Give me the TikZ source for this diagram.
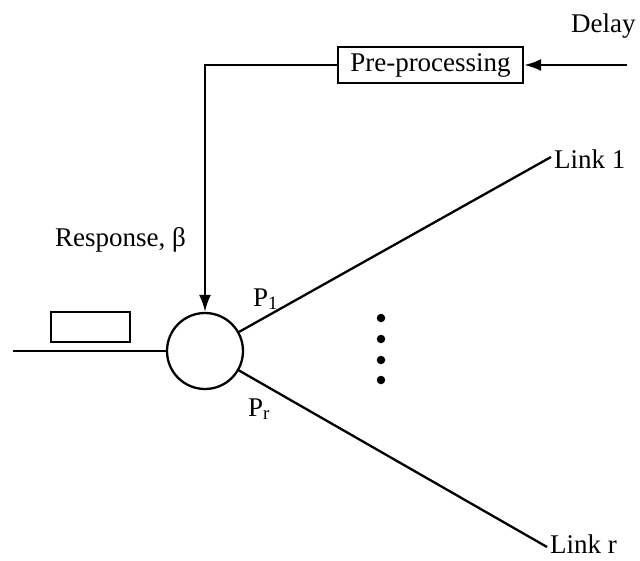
\documentclass[tikz,border=0pt]{standalone}
\usepackage{fontspec}
\setmainfont{Liberation Serif}
\usetikzlibrary{arrows.meta}
\begin{document}
\begin{tikzpicture}[x=1pt,y=-1pt,
  line width=2.3pt,
  lbl/.style={font=\fontsize{27}{31}\selectfont, inner sep=0pt},
  proc/.style={draw, line width=2.3pt, minimum width=185pt, minimum height=36pt, inner sep=0pt, font=\fontsize{27}{31}\selectfont},
  arr/.style={-{Latex[length=17pt,width=12pt]}},
  dot/.style={circle, fill, inner sep=0pt, minimum size=8.5pt}]
\useasboundingbox (0,0) rectangle (640,560);
% junction and the feeding line with its small buffer
\node[circle, draw, line width=2.3pt, minimum size=76pt, inner sep=0pt] (hub) at (205,351) {};
\coordinate (in) at (13,351);
\draw (in) -- (hub.west);
\node[draw, line width=2pt, minimum width=79pt, minimum height=30pt, inner sep=0pt] (buf) at (90.5,327) {};
% control path
\node[proc] (pre) at (430.5,65) {Pre-processing};
\coordinate (din) at (627,65);
\coordinate (corner) at (205,65);
\draw[arr] (din) -- (pre.east);
\draw[arr] (pre.west) -- (corner) -- (hub.north);
\node[lbl, anchor=base west] (delay) at (570,32) {Delay};
\node[lbl, anchor=base west] (resp) at (54,246) {Response, β};
% outgoing links
\coordinate (l1) at (551,157);
\coordinate (lr) at (547,547);
\draw (hub) -- (l1);
\draw (hub) -- (lr);
\node[lbl, anchor=base west] (link1) at (553,168) {Link 1};
\node[lbl, anchor=base west] (linkr) at (549,553) {Link r};
\node[lbl, anchor=base west] (p1) at (252,306) {P\textsubscript{1}};
\node[lbl, anchor=base west] (pr) at (247,416) {P\textsubscript{r}};
% ellipsis between the links
\node[dot] (d1) at (381,318) {};
\node[dot] (d2) at (381,339) {};
\node[dot] (d3) at (381,360) {};
\node[dot] (d4) at (381,380) {};
\end{tikzpicture}
\end{document}
